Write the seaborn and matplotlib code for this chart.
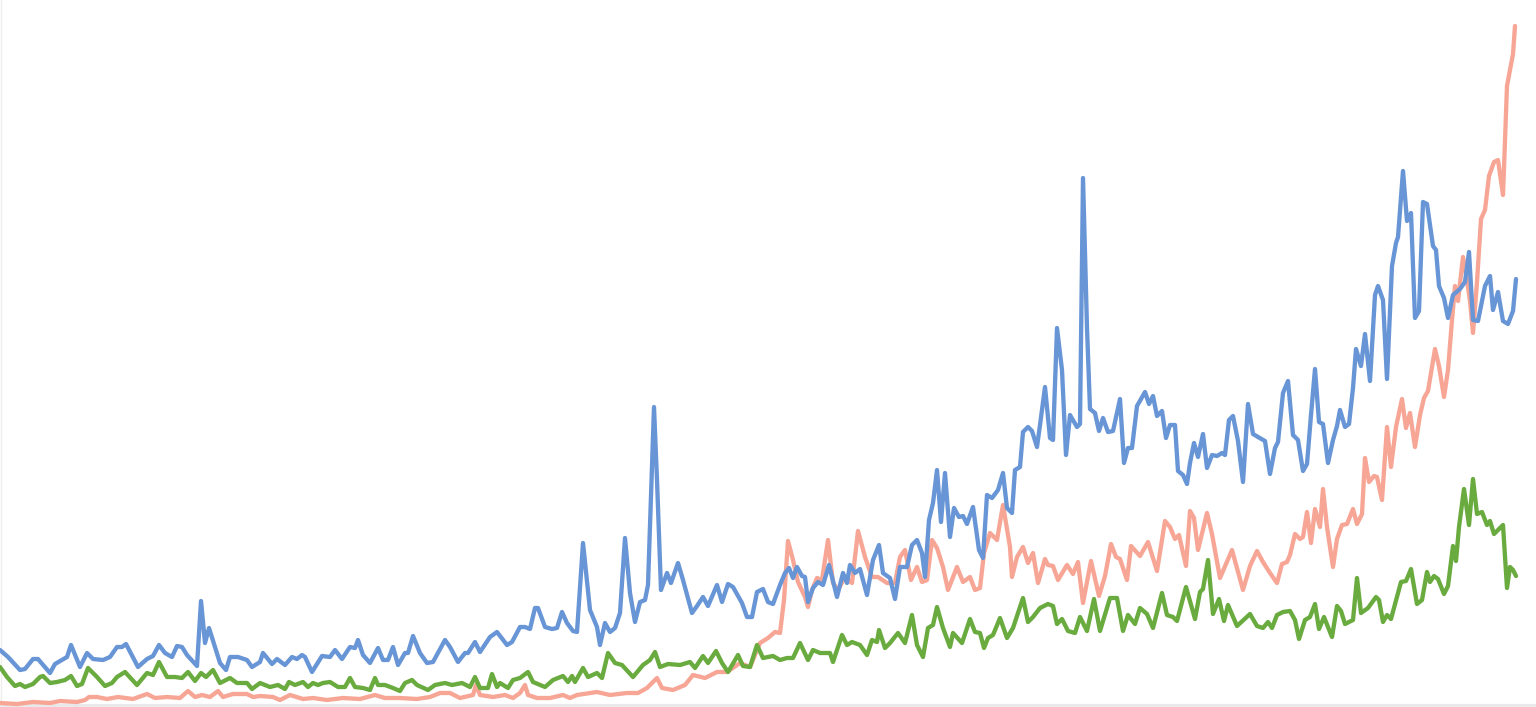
import numpy as np
import pandas as pd
import seaborn as sns
import matplotlib.pyplot as plt

sns.set_style("white")

# values (t = position along the time axis, value = height)
blue_t = [0, 8, 20, 25, 33, 38, 50, 55, 67, 71, 80, 87, 93, 103, 110, 117, 122, 126, 138, 147,
          153, 159, 165, 172, 177, 182, 187, 197, 201, 205, 209, 220, 226, 230, 238, 247, 252, 260,
          263, 272, 277, 285, 292, 297, 302, 305, 312, 322, 330, 335, 342, 350, 355, 358, 363, 370,
          378, 383, 388, 393, 398, 405, 408, 413, 420, 427, 433, 445, 450, 458, 465, 468, 475, 480,
          490, 497, 507, 512, 520, 525, 530, 535, 538, 545, 552, 557, 562, 567, 573, 577, 583, 590,
          597, 600, 605, 610, 615, 620, 625, 630, 635, 640, 645, 648, 654, 657, 661, 667, 671, 678,
          683, 692, 697, 703, 708, 717, 722, 728, 733, 742, 747, 752, 757, 763, 768, 773, 780, 785,
          789, 793, 797, 802, 805, 808, 813, 818, 823, 829, 837, 843, 847, 850, 855, 860, 867, 873,
          879, 883, 890, 895, 900, 907, 912, 917, 922, 925, 929, 933, 937, 941, 945, 950, 954, 959,
          963, 967, 973, 979, 983, 987, 992, 998, 1003, 1007, 1012, 1015, 1020, 1023, 1028, 1032,
          1037, 1040, 1045, 1050, 1053, 1057, 1062, 1066, 1070, 1077, 1080, 1083, 1087, 1090, 1095,
          1099, 1103, 1108, 1113, 1120, 1124, 1128, 1132, 1137, 1145, 1149, 1153, 1157, 1162, 1166,
          1170, 1175, 1178, 1183, 1187, 1190, 1194, 1198, 1203, 1207, 1212, 1217, 1222, 1225, 1229,
          1233, 1238, 1243, 1248, 1253, 1258, 1265, 1270, 1275, 1278, 1283, 1288, 1293, 1298, 1303,
          1307, 1311, 1315, 1319, 1323, 1328, 1333, 1337, 1340, 1345, 1349, 1353, 1356, 1361, 1365,
          1370, 1375, 1378, 1383, 1387, 1392, 1396, 1398, 1403, 1407, 1411, 1415, 1419, 1423, 1427,
          1433, 1436, 1439, 1444, 1448, 1453, 1460, 1465, 1469, 1473, 1478, 1485, 1490, 1493, 1498,
          1503, 1508, 1513, 1516]
blue_v = [55, 48, 35, 36, 46, 46, 32, 41, 48, 60, 38, 52, 46, 45, 48, 58, 58, 61, 38, 46,
          49, 60, 52, 48, 59, 58, 50, 39, 104, 62, 77, 42, 35, 48, 48, 45, 38, 43,
          52, 41, 46, 40, 48, 46, 50, 48, 33, 49, 48, 55, 46, 58, 57, 65, 50, 42,
          57, 45, 45, 58, 40, 52, 52, 69, 52, 42, 43, 65, 58, 43, 52, 52, 63, 53,
          68, 73, 60, 63, 78, 78, 76, 97, 97, 78, 76, 77, 93, 82, 74, 73, 162, 95,
          78, 60, 82, 73, 77, 92, 167, 112, 83, 103, 105, 120, 298, 225, 115, 132, 122, 142,
          125, 92, 99, 108, 99, 120, 103, 121, 118, 102, 88, 88, 113, 116, 103, 101, 120, 132,
          137, 127, 138, 129, 128, 103, 117, 123, 120, 140, 108, 132, 122, 140, 132, 136, 110, 145,
          160, 132, 127, 106, 138, 138, 160, 165, 152, 128, 185, 202, 235, 183, 232, 168, 197, 188,
          189, 181, 198, 155, 147, 210, 207, 215, 232, 197, 192, 235, 238, 273, 278, 274,
          258, 280, 318, 267, 265, 377, 335, 250, 290, 278, 281, 527, 377, 296, 292,
          274, 287, 273, 274, 306, 242, 257, 257, 299, 313, 301, 309, 289, 294, 267,
          280, 280, 234, 230, 221, 242, 262, 248, 271, 237, 250, 249, 252, 250, 285,
          289, 264, 223, 301, 271, 268, 264, 231, 257, 263, 312, 324, 270, 265, 234,
          241, 290, 336, 283, 281, 242, 265, 279, 295, 278, 281, 317, 356, 339, 371,
          324, 410, 419, 405, 326, 439, 462, 468, 534, 484, 492, 387, 394, 503, 501,
          459, 455, 419, 407, 387, 410, 416, 423, 453, 385, 384, 419, 429, 395, 413,
          384, 381, 394, 426]

red_t = [0, 17, 33, 50, 60, 77, 85, 89, 97, 107, 118, 133, 147, 155, 167, 180, 188, 195, 202, 210,
         218, 223, 233, 247, 253, 260, 273, 280, 290, 303, 313, 327, 343, 360, 375, 385, 400, 417,
         430, 440, 450, 460, 473, 476, 480, 493, 505, 513, 520, 525, 528, 537, 550, 563, 570, 577,
         597, 610, 627, 638, 647, 657, 662, 673, 685, 693, 705, 717, 727, 740, 750, 760, 768, 775,
         780, 784, 788, 793, 798, 805, 808, 812, 817, 822, 828, 833, 838, 845, 852, 858, 865, 872,
         878, 887, 895, 900, 905, 911, 917, 922, 927, 932, 937, 943, 948, 957, 963, 970, 975, 980,
         984, 990, 997, 1003, 1010, 1012, 1017, 1023, 1028, 1033, 1038, 1045, 1048, 1053, 1058,
         1067, 1073, 1078, 1083, 1091, 1099, 1105, 1111, 1116, 1120, 1127, 1131, 1140, 1148, 1157,
         1165, 1170, 1175, 1179, 1186, 1190, 1194, 1198, 1207, 1212, 1220, 1232, 1243, 1250, 1257,
         1263, 1270, 1277, 1282, 1287, 1290, 1295, 1300, 1303, 1307, 1311, 1315, 1320, 1323, 1327,
         1333, 1337, 1342, 1347, 1353, 1357, 1362, 1365, 1369, 1374, 1377, 1382, 1387, 1391, 1396,
         1402, 1406, 1410, 1415, 1420, 1424, 1428, 1435, 1439, 1444, 1448, 1452, 1455, 1458, 1463,
         1467, 1470, 1473, 1477, 1481, 1485, 1489, 1494, 1498, 1503, 1507, 1510, 1513, 1515]
red_v = [2, 1, 3, 2, 4, 3, 5, 8, 8, 6, 8, 6, 11, 7, 8, 7, 14, 8, 10, 8,
         14, 8, 11, 11, 8, 9, 8, 5, 10, 6, 7, 5, 7, 6, 10, 7, 7, 6,
         8, 12, 12, 7, 10, 20, 10, 8, 10, 7, 12, 20, 10, 7, 7, 10, 7, 10,
         13, 10, 12, 12, 17, 27, 17, 15, 20, 30, 27, 33, 33, 42, 38, 62, 67, 73,
         72, 105, 164, 145, 123, 108, 98, 115, 127, 125, 165, 122, 115, 128, 122, 174, 148, 128,
         128, 122, 122, 148, 155, 125, 138, 123, 125, 165, 157, 138, 115, 138, 123, 128, 115, 117,
         152, 172, 165, 200, 158, 128, 148, 158, 142, 152, 122, 146, 140, 139, 125,
         140, 131, 143, 102, 144, 109, 129, 161, 148, 146, 125, 159, 149, 163, 134,
         184, 178, 166, 170, 139, 194, 187, 155, 192, 171, 127, 155, 115, 139, 154,
         143, 132, 122, 141, 143, 150, 171, 166, 168, 193, 162, 196, 178, 216, 178,
         138, 166, 180, 181, 196, 181, 191, 247, 223, 229, 228, 205, 278, 238, 278,
         306, 277, 292, 258, 290, 307, 314, 356, 339, 308, 335, 385, 419, 404, 448,
         425, 404, 372, 423, 486, 495, 529, 543, 545, 510, 619, 635, 651, 679]

green_t = [0, 7, 15, 20, 25, 33, 40, 43, 50, 57, 65, 71, 77, 82, 88, 97, 105, 112, 117, 125,
           137, 147, 153, 159, 167, 175, 182, 188, 195, 201, 206, 213, 220, 230, 237, 247, 252, 260,
           270, 278, 285, 289, 295, 303, 308, 313, 318, 323, 330, 338, 345, 350, 355, 363, 370, 375,
           378, 385, 393, 400, 405, 412, 417, 428, 435, 445, 452, 462, 470, 475, 480, 488, 492, 497,
           500, 508, 513, 520, 528, 533, 545, 553, 563, 568, 572, 575, 583, 588, 597, 602, 608, 615,
           622, 633, 643, 650, 655, 660, 668, 680, 690, 695, 703, 708, 716, 722, 728, 738, 743, 750,
           757, 763, 773, 780, 787, 793, 800, 808, 813, 820, 830, 833, 842, 847, 852, 860, 867, 872,
           877, 879, 885, 890, 898, 905, 912, 917, 923, 928, 933, 937, 943, 950, 953, 962, 970, 975,
           980, 984, 988, 993, 1000, 1007, 1013, 1023, 1028, 1033, 1040, 1048, 1053, 1057, 1062,
           1068, 1075, 1080, 1087, 1094, 1100, 1110, 1117, 1123, 1128, 1135, 1140, 1147, 1153, 1162,
           1167, 1173, 1177, 1186, 1195, 1200, 1203, 1208, 1213, 1219, 1224, 1228, 1237, 1250, 1257,
           1263, 1268, 1272, 1277, 1283, 1290, 1295, 1299, 1305, 1310, 1315, 1319, 1324, 1332, 1337,
           1341, 1345, 1353, 1357, 1361, 1368, 1376, 1379, 1383, 1387, 1391, 1401, 1406, 1411, 1417,
           1422, 1427, 1430, 1434, 1438, 1444, 1448, 1453, 1456, 1459, 1464, 1469, 1473, 1477, 1482,
           1487, 1490, 1494, 1498, 1503, 1507, 1510, 1513, 1516]
green_v = [38, 28, 19, 21, 18, 21, 28, 29, 22, 23, 25, 29, 19, 21, 37, 28, 19, 22, 28, 33,
           20, 32, 30, 43, 28, 28, 27, 33, 24, 32, 28, 35, 22, 27, 22, 22, 16, 22,
           18, 20, 16, 23, 20, 23, 18, 22, 20, 22, 23, 18, 18, 27, 18, 17, 15, 27,
           20, 20, 17, 14, 22, 25, 20, 15, 20, 22, 20, 22, 18, 28, 17, 17, 31, 18,
           22, 17, 25, 27, 33, 23, 18, 25, 29, 23, 29, 23, 37, 28, 32, 27, 52, 42,
           40, 28, 40, 45, 53, 38, 41, 40, 43, 37, 49, 42, 54, 42, 33, 50, 39, 38,
           60, 47, 49, 45, 47, 47, 62, 45, 55, 52, 52, 43, 70, 60, 63, 60, 50, 65,
           63, 75, 57, 62, 72, 62, 90, 60, 48, 77, 80, 98, 77, 58, 72, 62, 86, 73,
           72, 57, 67, 70, 87, 67, 77, 107, 83, 88, 97, 101, 99, 81, 86,
           74, 72, 88, 74, 106, 74, 107, 107, 74, 90, 81, 97, 91, 77, 112,
           90, 88, 84, 118, 86, 113, 116, 145, 91, 106, 84, 100, 79, 91, 79,
           77, 83, 77, 90, 93, 94, 85, 66, 85, 88, 101, 76, 88, 68, 99,
           94, 81, 85, 127, 92, 97, 108, 105, 83, 90, 86, 123, 124, 136, 101,
           105, 133, 123, 129, 126, 111, 119, 159, 144, 178, 216, 180, 226, 191, 193,
           180, 184, 171, 175, 180, 117, 138, 135, 129]

frames = []
for name, t, v in [("red", red_t, red_v), ("green", green_t, green_v), ("blue", blue_t, blue_v)]:
    frames.append(pd.DataFrame({"t": t, "value": v, "series": name}))
df = pd.concat(frames, ignore_index=True)

palette = {"red": "#f7a696", "green": "#6aab3f", "blue": "#6895d5"}

fig = plt.figure(figsize=(15.36, 7.07), dpi=100)
ax = fig.add_axes([0, 0, 1, 1])

sns.lineplot(data=df, x="t", y="value", hue="series", hue_order=["red", "green", "blue"],
             palette=palette, estimator=None, sort=False, linewidth=3.1,
             legend=False, ax=ax, solid_joinstyle="round", solid_capstyle="round")

ax.set_xlim(0, 1536)
ax.set_ylim(-2, 705)
ax.axhline(-1, color="#e9e9e9", lw=3, zorder=0)
ax.axvline(0.5, color="#eeeeee", lw=1, zorder=0)
ax.set_axis_off()

fig.savefig("out.png", dpi=100)
